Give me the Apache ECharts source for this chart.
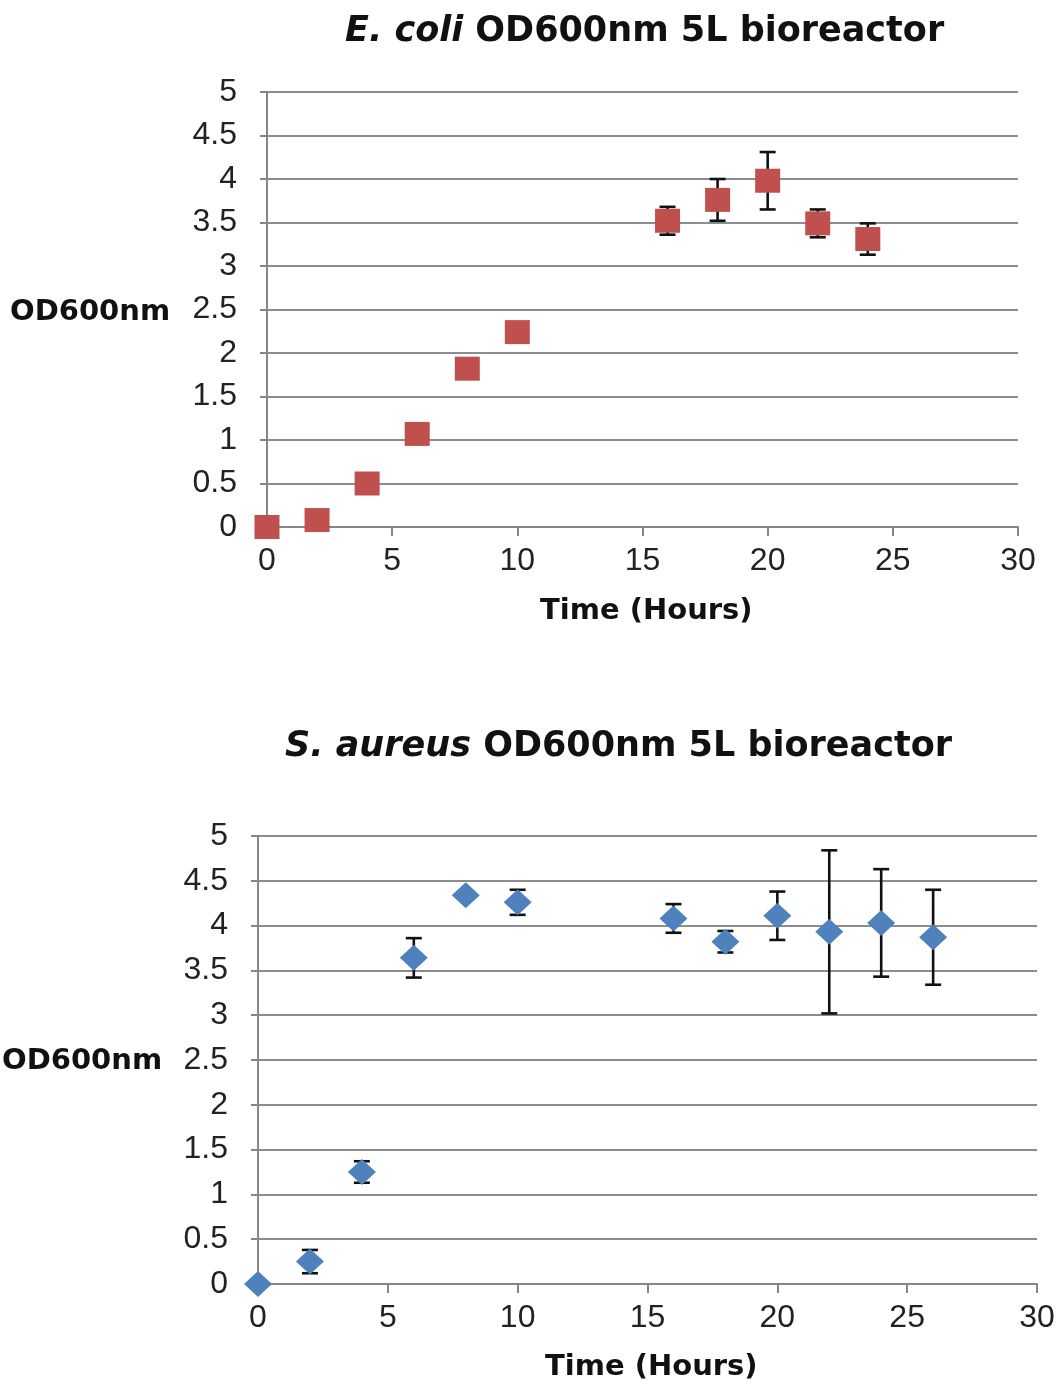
<!DOCTYPE html>
<html><head><meta charset="utf-8">
<script src="https://cdn.jsdelivr.net/npm/echarts@6/dist/echarts.min.js"></script>
<style>html,body{margin:0;padding:0;background:#fff}#c{width:1064px;height:1387px}</style>
</head><body><div id="c"></div>
<script>
const ecoliHours = [0, 2, 4, 6, 8, 10, 16, 18, 20, 22, 24];
const ecoliOD = [0, 0.08, 0.5, 1.07, 1.82, 2.24, 3.52, 3.76, 3.98, 3.49, 3.31];
const ecoliErr = [0.01, 0.02, 0.02, 0.03, 0.03, 0.05, 0.16, 0.24, 0.33, 0.16, 0.18];
const saureusHours = [0, 2, 4, 6, 8, 10, 16, 18, 20, 22, 24, 26];
const saureusOD = [0, 0.25, 1.25, 3.64, 4.34, 4.26, 4.08, 3.82, 4.11, 3.93, 4.03, 3.87];
const saureusErr = [0.01, 0.13, 0.12, 0.22, 0.02, 0.14, 0.16, 0.12, 0.27, 0.91, 0.6, 0.53];
const yTickLabels = ['0','0.5','1','1.5','2','2.5','3','3.5','4','4.5','5'];

const FONT = '"Liberation Sans", Arial, sans-serif';
const BFONT = '"DejaVu Sans", sans-serif';
const chart = echarts.init(document.getElementById('c'));

function errData(h, v, e) { return h.map((x, i) => [x, v[i] - e[i], v[i] + e[i]]); }
function errRender(params, api) {
  const x = api.value(0);
  const lo = api.coord([x, api.value(1)]);
  const hi = api.coord([x, api.value(2)]);
  const cap = 8;
  const st = { stroke: '#111', lineWidth: 2.6 };
  return { type: 'group', children: [
    { type: 'line', shape: { x1: lo[0], y1: lo[1], x2: hi[0], y2: hi[1] }, style: st },
    { type: 'line', shape: { x1: lo[0]-cap, y1: lo[1], x2: lo[0]+cap, y2: lo[1] }, style: st },
    { type: 'line', shape: { x1: hi[0]-cap, y1: hi[1], x2: hi[0]+cap, y2: hi[1] }, style: st }
  ]};
}
function xAxis(gi) {
  return { type: 'value', gridIndex: gi, min: 0, max: 30, interval: 5,
    axisLine: { show: true, lineStyle: { color: '#868686', width: 2 } },
    axisTick: { show: true, length: 9, lineStyle: { color: '#868686', width: 2 } },
    axisLabel: { fontFamily: FONT, fontSize: 32, color: '#222', margin: 18 },
    splitLine: { show: false } };
}
function yAxis(gi) {
  return { type: 'value', gridIndex: gi, min: 0, max: 5, interval: 0.5,
    axisLine: { show: true, lineStyle: { color: '#868686', width: 2 } },
    axisTick: { show: true, length: 7, lineStyle: { color: '#868686', width: 2 } },
    axisLabel: { fontFamily: FONT, fontSize: 32, color: '#222', margin: 30,
      formatter: v => yTickLabels[Math.round(v * 2)] },
    splitLine: { show: true, lineStyle: { color: '#8c8c8c', width: 2 } } };
}
const titleRich = { i: { fontStyle: 'italic', fontWeight: 'bold', fontSize: 35, fontFamily: BFONT, color: '#111' },
                    n: { fontWeight: 'bold', fontSize: 35, fontFamily: BFONT, color: '#111' } };
function label(x, y, text) {
  return { type: 'text', x: x, y: y, style: { text: text, font: 'bold 29px ' + BFONT, fill: '#111', verticalAlign: 'middle', textVerticalAlign: 'middle' } };
}
chart.setOption({
  animation: false,
  title: [
    { text: '{i|E. coli}{n| OD600nm 5L bioreactor}', left: 340, top: 9, textStyle: { rich: titleRich } },
    { text: '{i|S. aureus}{n| OD600nm 5L bioreactor}', left: 280, top: 724, textStyle: { rich: titleRich } }
  ],
  graphic: [
    label(10, 312, 'OD600nm'),
    label(2, 1061, 'OD600nm'),
    label(540, 611, 'Time (Hours)'),
    label(545, 1367, 'Time (Hours)')
  ],
  grid: [
    { left: 267, right: 46, top: 92, height: 435 },
    { left: 258, right: 27, top: 836, height: 448 }
  ],
  xAxis: [xAxis(0), xAxis(1)],
  yAxis: [yAxis(0), yAxis(1)],
  series: [
    { type: 'custom', xAxisIndex: 0, yAxisIndex: 0, renderItem: errRender, data: errData(ecoliHours, ecoliOD, ecoliErr), z: 3 },
    { type: 'scatter', xAxisIndex: 0, yAxisIndex: 0, symbol: 'rect', symbolSize: [25, 24],
      itemStyle: { color: '#C0504D', opacity: 1 }, data: ecoliHours.map((x, i) => [x, ecoliOD[i]]), z: 4 },
    { type: 'custom', xAxisIndex: 1, yAxisIndex: 1, renderItem: errRender, data: errData(saureusHours, saureusOD, saureusErr), z: 3 },
    { type: 'scatter', xAxisIndex: 1, yAxisIndex: 1, symbol: 'diamond', symbolSize: [28, 26],
      itemStyle: { color: '#4F81BD', opacity: 1 }, data: saureusHours.map((x, i) => [x, saureusOD[i]]), z: 4 }
  ]
});
</script></body></html>
